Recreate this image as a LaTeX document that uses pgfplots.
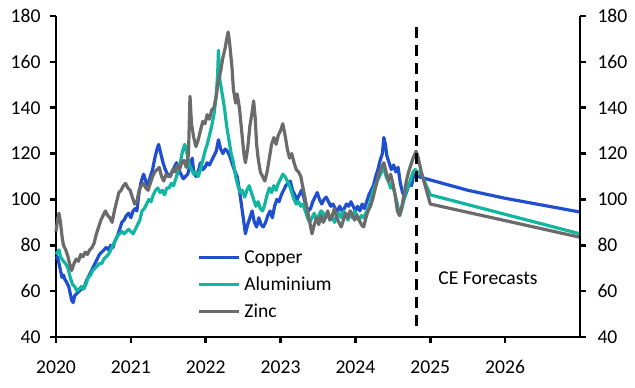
\documentclass[border=0pt]{standalone}
\usepackage{pgfplots}
\pgfplotsset{compat=1.18}
\usepackage{fontspec}
\setmainfont{Carlito}
\definecolor{cuC}{HTML}{1F4ED1}
\definecolor{alC}{HTML}{12B5A0}
\definecolor{znC}{HTML}{6B6B6B}
\newcommand{\bigf}{\fontsize{19.7}{23.6}\selectfont}
\begin{document}
\begin{tikzpicture}[font=\bigf]
\path[use as bounding box] (0,0) rectangle (635bp,388bp);
\begin{axis}[
  at={(56bp,51bp)}, anchor=south west,
  scale only axis, width=524bp, height=321bp,
  xmin=2020, xmax=2027, ymin=40, ymax=180,
  axis x line=bottom, axis y line=left,
  axis line style={line width=2.5bp,-},
  every tick/.style={black, line width=2.5bp},
  tick align=outside, major tick length=6bp,
  xtick={2020,2021,2022,2023,2024,2025,2026},
  ytick={40,60,...,180},
  /pgf/number format/1000 sep={},
  /pgf/number format/assume math mode=true,
  tick label style={font=\bigf},
  xticklabel style={yshift=-14bp},
  yticklabel style={xshift=-6bp},
  clip=false,
  legend style={draw=none, fill=none, at={(rel axis cs:0.27,0.275)}, anchor=north west,
    font=\bigf, row sep=9bp, inner sep=0pt,
    nodes={inner xsep=3.5bp, inner ysep=1.5bp}},
  legend cell align=left,
  legend image code/.code={\draw[#1] (0bp,0bp) -- (40bp,0bp);},
]
\addplot[cuC, line width=3.2bp, line join=round] coordinates {
(2020.00,74)(2020.02,75)(2020.04,72)(2020.06,69)(2020.08,66)(2020.10,67)(2020.12,65)(2020.14,64)(2020.17,62)(2020.19,59)
(2020.21,56)(2020.23,55)(2020.25,58)(2020.28,59)(2020.31,60)(2020.34,61)(2020.37,61)(2020.40,64)(2020.43,66)(2020.46,68)
(2020.49,70)(2020.52,72)(2020.55,74)(2020.58,76)(2020.61,77)(2020.64,78)(2020.67,79)(2020.70,78)(2020.73,80)(2020.76,79)
(2020.79,82)(2020.82,84)(2020.85,87)(2020.88,90)(2020.91,91)(2020.94,93)(2020.97,94)(2021.00,92)(2021.03,95)(2021.06,96)
(2021.08,95)(2021.11,103)(2021.14,108)(2021.17,111)(2021.20,108)(2021.23,106)(2021.26,110)(2021.29,113)(2021.32,118)(2021.35,122)
(2021.37,124)(2021.40,120)(2021.43,116)(2021.46,113)(2021.49,111)(2021.52,110)(2021.55,112)(2021.58,114)(2021.61,116)(2021.64,113)
(2021.67,111)(2021.70,109)(2021.73,110)(2021.76,111)(2021.79,115)(2021.82,118)(2021.84,112)(2021.87,110)(2021.90,112)(2021.93,116)
(2021.96,113)(2021.99,114)(2022.02,116)(2022.05,115)(2022.08,117)(2022.11,119)(2022.14,121)(2022.17,126)(2022.20,122)(2022.23,120)
(2022.26,122)(2022.29,121)(2022.32,119)(2022.35,116)(2022.38,113)(2022.42,110)(2022.45,104)(2022.48,97)(2022.51,90)(2022.53,85)
(2022.56,89)(2022.59,92)(2022.62,95)(2022.65,90)(2022.68,88)(2022.71,92)(2022.74,89)(2022.77,88)(2022.80,90)(2022.83,93)
(2022.86,95)(2022.89,92)(2022.92,97)(2022.95,100)(2022.98,99)(2023.01,102)(2023.04,104)(2023.07,106)(2023.10,107)(2023.13,108)
(2023.16,104)(2023.19,102)(2023.22,100)(2023.25,102)(2023.28,104)(2023.31,101)(2023.34,97)(2023.37,95)(2023.40,96)(2023.43,99)
(2023.46,101)(2023.49,103)(2023.52,100)(2023.55,98)(2023.58,100)(2023.61,101)(2023.64,99)(2023.67,97)(2023.70,98)(2023.73,96)
(2023.76,95)(2023.79,97)(2023.82,95)(2023.85,96)(2023.88,98)(2023.91,97)(2023.94,99)(2023.97,97)(2024.00,95)(2024.03,97)
(2024.06,95)(2024.09,98)(2024.12,96)(2024.15,99)(2024.18,102)(2024.21,104)(2024.24,106)(2024.27,110)(2024.30,113)(2024.33,117)
(2024.36,120)(2024.38,127)(2024.40,124)(2024.42,119)(2024.45,116)(2024.48,113)(2024.51,115)(2024.54,112)(2024.57,114)(2024.60,107)
(2024.63,103)(2024.66,101)(2024.69,104)(2024.72,107)(2024.75,106)(2024.78,111)(2024.81,110)(2024.84,110)
(2025.00,108.5)(2025.50,104)(2026.00,100.5)(2026.50,97.5)(2027.00,94.5)};
\addlegendentry{Copper}
\addplot[alC, line width=3.2bp, line join=round] coordinates {
(2020.00,76)(2020.02,77)(2020.04,78)(2020.06,75)(2020.08,74)(2020.10,73)(2020.13,72)(2020.16,70)(2020.19,66)(2020.22,63)
(2020.25,62)(2020.28,60)(2020.31,61)(2020.34,62)(2020.37,61)(2020.40,63)(2020.43,66)(2020.46,67)(2020.49,69)(2020.52,70)
(2020.55,71)(2020.58,72)(2020.61,72)(2020.64,74)(2020.67,75)(2020.70,76)(2020.73,78)(2020.76,80)(2020.79,82)(2020.82,84)
(2020.85,85)(2020.88,86)(2020.91,85)(2020.94,86)(2020.97,87)(2021.00,86)(2021.03,85)(2021.06,87)(2021.09,89)(2021.12,91)
(2021.15,95)(2021.18,96)(2021.21,98)(2021.24,100)(2021.27,99)(2021.30,102)(2021.33,104)(2021.36,105)(2021.39,103)(2021.42,104)
(2021.45,102)(2021.48,105)(2021.51,105)(2021.54,107)(2021.57,106)(2021.60,109)(2021.63,112)(2021.66,116)(2021.69,121)(2021.72,124)
(2021.75,120)(2021.78,115)(2021.81,113)(2021.84,111)(2021.87,112)(2021.90,110)(2021.93,113)(2021.96,117)(2021.99,121)(2022.02,124)
(2022.05,128)(2022.08,132)(2022.11,137)(2022.14,145)(2022.16,155)(2022.17,165)(2022.19,152)(2022.22,146)(2022.25,140)(2022.28,132)
(2022.31,126)(2022.34,120)(2022.37,116)(2022.40,110)(2022.43,106)(2022.46,103)(2022.49,104)(2022.52,101)(2022.55,104)(2022.58,106)
(2022.61,103)(2022.64,100)(2022.67,97)(2022.70,99)(2022.73,96)(2022.76,95)(2022.79,98)(2022.82,102)(2022.85,105)(2022.88,103)
(2022.91,106)(2022.94,104)(2022.97,107)(2023.00,109)(2023.03,111)(2023.06,110)(2023.09,108)(2023.12,106)(2023.15,103)(2023.18,100)
(2023.21,98)(2023.24,99)(2023.27,97)(2023.30,98)(2023.33,95)(2023.36,92)(2023.39,90)(2023.42,92)(2023.45,94)(2023.48,91)
(2023.51,93)(2023.54,95)(2023.57,94)(2023.60,92)(2023.63,94)(2023.66,91)(2023.69,93)(2023.72,90)(2023.75,92)(2023.78,94)
(2023.81,92)(2023.84,95)(2023.87,93)(2023.90,91)(2023.93,94)(2023.96,92)(2023.99,95)(2024.02,93)(2024.05,91)(2024.08,93)
(2024.11,92)(2024.14,94)(2024.17,96)(2024.20,99)(2024.23,103)(2024.26,106)(2024.29,108)(2024.32,110)(2024.35,112)(2024.38,114)
(2024.41,110)(2024.44,108)(2024.47,105)(2024.50,106)(2024.53,102)(2024.56,98)(2024.59,93)(2024.62,96)(2024.65,100)(2024.68,104)
(2024.71,106)(2024.74,109)(2024.77,112)(2024.80,113)(2024.83,112)(2024.88,111)(2025.00,102)(2027.00,85)};
\addlegendentry{Aluminium}
\addplot[znC, line width=3.2bp, line join=round] coordinates {
(2020.00,86)(2020.02,91)(2020.04,94)(2020.06,90)(2020.08,84)(2020.10,80)(2020.13,78)(2020.16,75)(2020.19,71)(2020.21,69)
(2020.24,72)(2020.27,74)(2020.30,73)(2020.33,76)(2020.36,75)(2020.39,77)(2020.42,76)(2020.45,78)(2020.48,79)(2020.51,81)
(2020.54,85)(2020.57,88)(2020.60,91)(2020.63,93)(2020.66,95)(2020.69,93)(2020.72,92)(2020.75,90)(2020.78,95)(2020.81,99)
(2020.84,103)(2020.87,104)(2020.90,106)(2020.93,107)(2020.96,105)(2020.99,104)(2021.02,101)(2021.05,98)(2021.08,99)(2021.11,104)
(2021.14,106)(2021.17,107)(2021.20,105)(2021.23,104)(2021.26,107)(2021.29,110)(2021.32,112)(2021.35,113)(2021.38,114)(2021.41,110)
(2021.44,108)(2021.47,111)(2021.50,110)(2021.53,110)(2021.56,113)(2021.59,112)(2021.62,115)(2021.65,113)(2021.68,116)(2021.71,117)
(2021.74,114)(2021.77,120)(2021.79,145)(2021.81,133)(2021.84,127)(2021.87,123)(2021.90,126)(2021.93,130)(2021.96,134)(2021.99,133)
(2022.02,137)(2022.05,135)(2022.08,139)(2022.11,140)(2022.14,145)(2022.17,152)(2022.20,156)(2022.23,162)(2022.26,166)(2022.28,170)
(2022.30,173)(2022.32,168)(2022.35,158)(2022.37,148)(2022.40,142)(2022.42,146)(2022.45,140)(2022.48,130)(2022.51,120)(2022.53,116)
(2022.56,122)(2022.59,132)(2022.62,138)(2022.64,143)(2022.66,136)(2022.68,124)(2022.70,118)(2022.73,112)(2022.76,110)(2022.79,108)
(2022.82,112)(2022.85,118)(2022.88,124)(2022.91,127)(2022.94,124)(2022.97,128)(2023.00,130)(2023.03,133)(2023.06,128)(2023.09,122)
(2023.12,118)(2023.15,120)(2023.18,116)(2023.21,113)(2023.24,112)(2023.27,110)(2023.30,105)(2023.33,100)(2023.36,95)(2023.39,90)
(2023.42,85)(2023.45,89)(2023.48,92)(2023.51,89)(2023.54,93)(2023.57,90)(2023.60,92)(2023.63,95)(2023.66,91)(2023.69,93)
(2023.72,96)(2023.75,92)(2023.78,90)(2023.81,88)(2023.84,91)(2023.87,94)(2023.90,92)(2023.93,95)(2023.96,93)(2023.99,91)
(2024.02,93)(2024.05,91)(2024.08,89)(2024.11,88)(2024.14,92)(2024.17,95)(2024.20,97)(2024.23,100)(2024.26,104)(2024.29,108)
(2024.32,112)(2024.35,114)(2024.38,116)(2024.41,112)(2024.44,108)(2024.47,111)(2024.50,107)(2024.53,102)(2024.56,95)(2024.59,93)
(2024.62,97)(2024.65,102)(2024.68,108)(2024.71,112)(2024.74,115)(2024.77,118)(2024.81,121)(2024.84,118)(2024.88,112)
(2025.00,98)(2027.00,83.5)};
\addlegendentry{Zinc}
\addplot[black, line width=3bp, dash pattern=on 11bp off 7bp, forget plot] coordinates {(2024.82,175.3)(2024.82,42.3)};
\node[font=\bigf] at (axis cs:2025.77,65.7) {CE Forecasts};
\end{axis}
\begin{axis}[
  at={(56bp,51bp)}, anchor=south west,
  scale only axis, width=524bp, height=321bp,
  xmin=2020, xmax=2027, ymin=40, ymax=180,
  axis x line=none, axis y line=right,
  axis line style={line width=2.5bp,-},
  every tick/.style={black, line width=2.5bp},
  tick align=outside, major tick length=6bp,
  ytick={40,60,...,180},
  /pgf/number format/assume math mode=true,
  tick label style={font=\bigf},
  yticklabel style={xshift=8bp},
]
\addplot[draw=none] coordinates {(2020,40)};
\end{axis}
\end{tikzpicture}
\end{document}
